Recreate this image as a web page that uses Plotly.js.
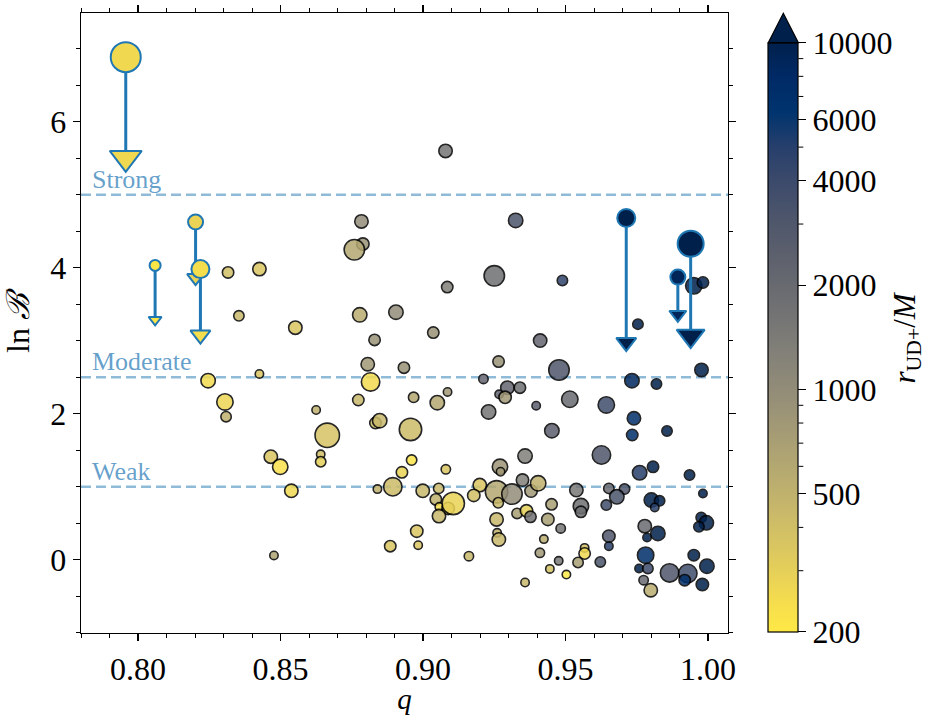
<!DOCTYPE html>
<html>
<head>
<meta charset="utf-8">
<script src="https://cdn.plot.ly/plotly-3.0.1.min.js"></script>
<style>html,body{margin:0;padding:0;background:#fff;}#chart{width:932px;height:715px;}</style>
</head>
<body>
<div id="chart"></div>
<script>
// ---- regular detections: mass ratio q, ln Bayes factor, r_UD+/M, marker-size variable
const q = [0.8316,0.8426,0.8354,0.8552,0.8784,0.8789,0.8759,0.8778,0.8905,0.8830,
0.8806,0.8933,0.8246,0.8426,0.8816,0.8305,0.8309,0.8773,0.8625,0.8833,
0.8848,0.8664,0.8956,0.8466,0.8499,0.8641,0.8641,0.8538,0.8840,0.8894,
0.8926,0.8477,0.8885,0.9079,0.9325,0.9250,0.9489,0.9085,0.9036,0.9411,
0.9265,0.9477,0.9212,0.9296,0.9340,0.9267,0.9288,0.9086,0.8967,0.9050,
0.9397,0.9515,0.9230,0.9452,0.9358,0.8960,0.9080,0.9270,0.9272,0.8999,
0.9055,0.9045,0.9057,0.9088,0.9106,0.9056,0.9199,0.9178,0.9258,0.9312,
0.9349,0.9379,0.9404,0.9264,0.9330,0.9363,0.9377,0.9258,0.9451,0.9438,
0.9483,0.8978,0.8983,0.9161,0.9260,0.9266,0.9424,0.9410,0.9476,0.9445,
0.9503,0.9358,0.9950,0.9982,0.9754,0.9977,0.9733,0.9819,0.9643,0.9740,
0.9734,0.9856,0.9626,0.9760,0.9807,0.9935,0.9982,0.9538,0.9652,0.9707,
0.9680,0.9643,0.9554,0.9554,0.9801,0.9830,0.9813,0.9976,0.9994,0.9968,
0.9778,0.9824,0.9786,0.9652,0.9652,0.9567,0.9567,0.9544,0.9622,0.9781,
0.9758,0.9789,0.9774,0.9799,0.9865,0.9929,0.9918,0.9950,0.9996,0.9980];
const lnB = [3.936,3.982,3.342,3.180,4.635,4.325,4.247,3.355,3.392,3.012,
2.679,2.632,2.454,2.546,2.436,2.162,1.960,2.189,2.052,1.874,
1.905,1.705,1.785,1.412,1.274,1.444,1.343,0.945,0.968,1.000,
1.198,0.059,0.187,5.601,4.649,3.890,3.826,3.735,3.112,3.003,
2.715,2.601,2.477,2.358,2.358,2.267,2.226,2.299,2.226,2.152,
2.111,2.199,2.025,1.768,1.421,1.366,1.239,1.274,1.206,0.945,
0.978,0.827,0.726,0.704,0.772,0.598,1.023,0.882,0.931,0.900,
1.092,0.941,1.047,0.781,0.635,0.671,0.588,0.553,0.759,0.553,
0.429,0.392,0.200,0.049,0.369,0.278,0.283,0.095,-0.015,-0.125,
-0.202,-0.311,3.753,3.798,3.228,2.601,2.454,2.409,2.121,1.938,
1.709,1.764,1.435,1.192,1.274,1.160,0.909,0.955,0.978,0.968,
0.863,0.749,0.735,0.657,0.818,0.808,0.717,0.580,0.506,0.451,
0.461,0.361,0.306,0.324,0.187,0.163,0.086,-0.037,-0.029,0.063,
-0.119,-0.119,-0.280,-0.417,-0.180,-0.188,-0.280,0.063,-0.088,-0.339];
const rUD = [400,350,450,350,1000,900,600,550,1000,900,
800,900,250,350,250,270,500,450,500,450,
450,370,420,350,230,400,300,260,500,420,
280,650,350,1600,3200,1800,4500,1300,900,2200,
900,3000,2200,2200,1800,2200,800,800,600,600,
2500,2000,1600,2500,1300,220,350,850,800,450,
450,500,240,420,280,450,350,400,600,1000,
1300,800,500,450,700,300,1700,450,700,700,
1600,350,350,450,500,450,550,800,1500,380,
200,450,10000,10000,10000,10000,8500,10000,3800,7000,
7000,10000,3000,5000,10000,10000,10000,1500,2000,3000,
3200,3800,1800,1800,10000,10000,5000,10000,10000,10000,
2000,10000,10000,3000,5000,400,260,700,3200,7500,
10000,4000,2000,550,3000,3800,7000,10000,10000,10000];
const sizeVar = [13,15,12,15,15,14,22,16,16,13,
15,13,16,10,20,18,12,13,10,13,
16,26,24,15,17,10,12,15,10,20,
13,10,13,15,16,22,12,13,13,15,
13,22,11,15,13,10,14,10,12,16,
10,18,16,16,16,12,11,17,10,15,
12,13,10,14,24,15,15,14,24,22,
14,14,17,12,12,14,13,15,13,14,
11,14,10,11,10,15,10,11,10,10,
10,10,18,13,12,15,16,12,18,15,
13,12,20,16,13,12,10,15,12,12,
16,12,17,13,16,12,10,12,16,12,
15,16,10,14,10,10,13,12,12,18,
10,12,11,15,20,20,13,13,16,14];

// ---- upper limits: start value and limit value of ln B
const ulQ = [0.7957,0.8060,0.8202,0.8219,0.9713,0.9939,0.9894];
const ulLnB = [6.885,4.032,4.627,3.982,4.682,4.329,3.872];
const ulLnBLimit = [5.505,3.287,3.863,3.080,2.978,3.067,3.359];
const ulR = [260,210,280,240,10000,10000,9000];
const ulSize = [32,13,17,20,20,28,17];

// ---- evidence thresholds
const thrVals = [5, 2.5, 1];
const thrLabels = ['Strong', 'Moderate', 'Weak'];

// ---- colour bar ticks
const cbMajor = [200,500,1000,2000,4000,6000,10000];
const cbMinor = [300,400,600,700,800,900,3000,5000,7000,8000,9000];
const rMin = 200, rMax = 10000;

const FONT = 'Liberation Serif, DejaVu Serif, serif';
const C0 = 'rgb(31,119,180)';
const lg = v => Math.log10(v);

// colour bar geometry (paper fractions of the plot area)
const CB_X0 = 1.0623, CB_X1 = 1.1087, CB_Y0 = 0.002, CB_LEN = 0.95;

const colorCommon = {
  colorscale: 'Cividis', reversescale: true,
  cmin: lg(rMin), cmax: lg(rMax)
};

const mainTrace = {
  type: 'scatter', mode: 'markers', x: q, y: lnB, hoverinfo: 'skip',
  marker: Object.assign({
    color: rUD.map(lg),
    size: sizeVar.map(s => s - 1.6),
    opacity: 0.85,
    line: {color: 'black', width: 1.6},
    showscale: true,
    colorbar: {
      x: CB_X0, xanchor: 'left', xpad: 0,
      y: CB_Y0, yanchor: 'bottom', ypad: 0,
      len: CB_LEN, lenmode: 'fraction',
      thickness: 30, thicknessmode: 'pixels',
      outlinewidth: 1.2, outlinecolor: 'black',
      ticks: 'outside', ticklen: 8, tickwidth: 1, tickcolor: 'black',
      tickvals: cbMajor.map(lg), ticktext: cbMajor.map(String),
      tickfont: {family: FONT, size: 32, color: 'black'}
    }
  }, colorCommon)
};

// arrow shafts from detection to limit
const lx = [], ly = [];
ulQ.forEach((xv, i) => { lx.push(xv, xv, null); ly.push(ulLnB[i], ulLnBLimit[i], null); });
const shaftTrace = {
  type: 'scatter', mode: 'lines', x: lx, y: ly, hoverinfo: 'skip',
  line: {color: C0, width: 3}
};
const triTrace = {
  type: 'scatter', mode: 'markers', x: ulQ, y: ulLnBLimit, hoverinfo: 'skip',
  marker: Object.assign({
    symbol: 'triangle-down',
    color: ulR.map(lg),
    size: ulSize.map(s => s / 1.155),
    opacity: 1,
    line: {color: C0, width: 2},
    showscale: false
  }, colorCommon)
};
const ulTrace = {
  type: 'scatter', mode: 'markers', x: ulQ, y: ulLnB, hoverinfo: 'skip',
  marker: Object.assign({
    color: ulR.map(lg),
    size: ulSize.map(s => s - 2),
    opacity: 1,
    line: {color: C0, width: 2},
    showscale: false
  }, colorCommon)
};

const shapes = thrVals.map(v => ({
  type: 'line', xref: 'paper', x0: 0, x1: 1, yref: 'y', y0: v, y1: v,
  layer: 'below', line: {color: 'rgba(31,119,180,0.5)', width: 2.5, dash: '10px,5px'}
}));
// colour-bar extension arrow
shapes.push({
  type: 'path', xref: 'paper', yref: 'paper',
  path: 'M ' + CB_X0 + ' 0.9521 L ' + CB_X1 + ' 0.9521 L ' + ((CB_X0 + CB_X1) / 2) + ' 0.9995 Z',
  fillcolor: 'rgb(0,32,76)', line: {color: 'black', width: 1.2}
});
// colour-bar minor ticks
const cbSpan = lg(rMax) - lg(rMin);
cbMinor.forEach(v => {
  const yy = CB_Y0 + CB_LEN * (lg(v) - lg(rMin)) / cbSpan;
  shapes.push({
    type: 'line', xref: 'paper', yref: 'paper',
    x0: CB_X1, x1: CB_X1 + 5 / 647, y0: yy, y1: yy,
    line: {color: 'black', width: 1}
  });
});

const annotations = thrVals.map((v, i) => ({
  x: 0.7834, y: v, xref: 'x', yref: 'y', xanchor: 'left', yanchor: 'bottom',
  text: thrLabels[i], showarrow: false, borderpad: 0,
  font: {family: FONT, size: 26, color: 'rgba(31,119,180,0.7)'}
}));
annotations.push({
  x: 1.277, y: 0.477, xref: 'paper', yref: 'paper', xanchor: 'center', yanchor: 'middle',
  text: '<i>r</i><sub>UD+</sub>/<i>M</i>', textangle: -90, showarrow: false,
  font: {family: FONT, size: 31, color: 'black'}
});

const axisCommon = {
  showline: true, linecolor: 'black', linewidth: 1.3, mirror: 'ticks',
  ticks: 'outside', ticklen: 7, tickwidth: 1.2, tickcolor: 'black',
  showgrid: false, zeroline: false,
  tickfont: {family: FONT, size: 32, color: 'black'}
};

const layout = {
  width: 932, height: 715,
  margin: {l: 81, r: 204, t: 13, b: 82},
  paper_bgcolor: 'white', plot_bgcolor: 'white',
  showlegend: false,
  xaxis: Object.assign({}, axisCommon, {
    range: [0.7800, 1.0070],
    tickvals: [0.80, 0.85, 0.90, 0.95, 1.00],
    ticktext: ['0.80', '0.85', '0.90', '0.95', '1.00'],
    minor: {ticks: 'outside', ticklen: 4, tickwidth: 1, tickcolor: 'black', tick0: 0.8, dtick: 0.01, showgrid: false},
    title: {text: '<i>q</i>', font: {family: FONT, size: 29, color: 'black'}, standoff: 10}
  }),
  yaxis: Object.assign({}, axisCommon, {
    range: [-1.003, 7.49],
    tickvals: [0, 2, 4, 6],
    ticktext: ['0', '2', '4', '6'],
    minor: {ticks: 'outside', ticklen: 4, tickwidth: 1, tickcolor: 'black', tick0: 0, dtick: 0.5, showgrid: false},
    title: {text: 'ln <i>ℬ</i>', font: {family: FONT, size: 32, color: 'black'}, standoff: 12}
  }),
  shapes: shapes,
  annotations: annotations
};

Plotly.newPlot('chart', [mainTrace, shaftTrace, triTrace, ulTrace], layout, {staticPlot: true, displayModeBar: false});
</script>
</body>
</html>
